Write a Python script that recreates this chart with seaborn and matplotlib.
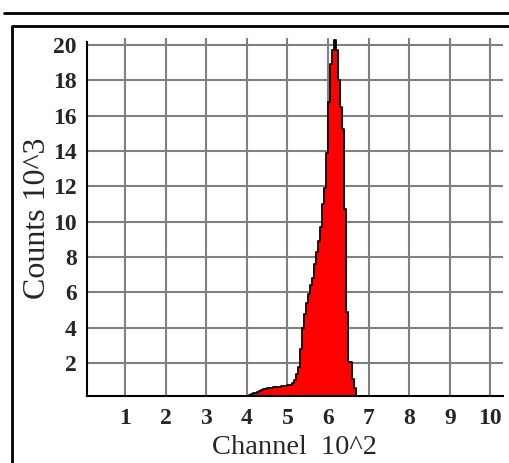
import numpy as np
import pandas as pd
import matplotlib
matplotlib.use("Agg")
import matplotlib.pyplot as plt
from matplotlib.lines import Line2D
import seaborn as sns

# Histogram bins (channel numbers, left edges every 5 channels) and counts (x10^3)
bin_left = np.arange(395, 670, 5)
counts = [
    0.10, 0.15, 0.20, 0.25, 0.30, 0.32, 0.38, 0.42, 0.47, 0.50,
    0.53, 0.57, 0.60, 0.60, 0.62, 0.63, 0.64, 0.66, 0.68, 0.70,
    0.72, 0.74, 0.76, 0.85, 1.05, 1.40, 1.80, 2.80, 4.00, 4.80,
    5.40, 5.90, 6.40, 6.80, 7.60, 8.30, 8.90, 9.70, 11.0, 11.9,
    13.9, 16.8, 18.95, 19.7, 20.3, 19.7, 18.0, 16.5, 15.25, 10.7,
    4.90, 2.05, 2.05, 1.10, 0.60,
]
bin_width = 5

x_ticks = [100, 200, 300, 400, 500, 600, 700, 800, 900, 1000]
x_tick_labels = ["1", "2", "3", "4", "5", "6", "7", "8", "9", "10"]
y_ticks = [2, 4, 6, 8, 10, 12, 14, 16, 18, 20]
y_tick_labels = ["2", "4", "6", "8", "10", "12", "14", "16", "18", "20"]

sns.set_style("white")
plt.rcParams["font.family"] = ["Liberation Serif", "DejaVu Serif"]

W, H = 510, 463
fig = plt.figure(figsize=(W / 100, H / 100), dpi=100)
ax = fig.add_axes([87 / W, (H - 396) / H, (503 - 87) / W, (396 - 38) / H])

df = pd.DataFrame({"channel": bin_left + bin_width / 2, "counts": counts})
sns.histplot(data=df, x="channel", weights="counts", binwidth=bin_width,
             binrange=(bin_left[0], bin_left[-1] + bin_width),
             element="step", fill=True, color="#ff0000", edgecolor="black",
             linewidth=1.3, alpha=1, ax=ax, zorder=3)

ax.set_xlim(6, 1031)
ax.set_ylim(0.13, 20.4)

ax.set_xticks(x_ticks)
ax.set_xticklabels(x_tick_labels, fontsize=17, fontweight="bold")
ax.set_yticks(y_ticks)
ax.set_yticklabels(y_tick_labels, fontsize=17, fontweight="bold")
ax.tick_params(axis="both", direction="out", length=4, width=1.5,
               color="#808080")
ax.tick_params(axis="y", pad=3.5)
ax.tick_params(axis="x", pad=5)

ax.grid(True, color="#808080", linewidth=1.5, zorder=0)
ax.set_axisbelow(True)

for side in ("top", "right"):
    ax.spines[side].set_visible(False)
for side in ("left", "bottom"):
    ax.spines[side].set_color("black")
    ax.spines[side].set_linewidth(1.5)
    ax.spines[side].set_zorder(4)
ax.spines["left"].set_bounds(0.13, 20.2)

ax.set_xlabel("Channel  10^2", fontsize=20.5, labelpad=4)
ax.set_ylabel("Counts 10^3", fontsize=23, va="center", ha="center")
ax.yaxis.set_label_coords(-0.120, 0.497)

# outer frame lines
fig.add_artist(Line2D([4 / W, 1], [1 - 12.5 / H, 1 - 12.5 / H],
                      color="black", linewidth=2, transform=fig.transFigure))
fig.add_artist(Line2D([12.5 / W, 12.5 / W, 1], [0, 1 - 26 / H, 1 - 26 / H],
                      color="black", linewidth=2, transform=fig.transFigure))

fig.savefig("out.png", dpi=100)
